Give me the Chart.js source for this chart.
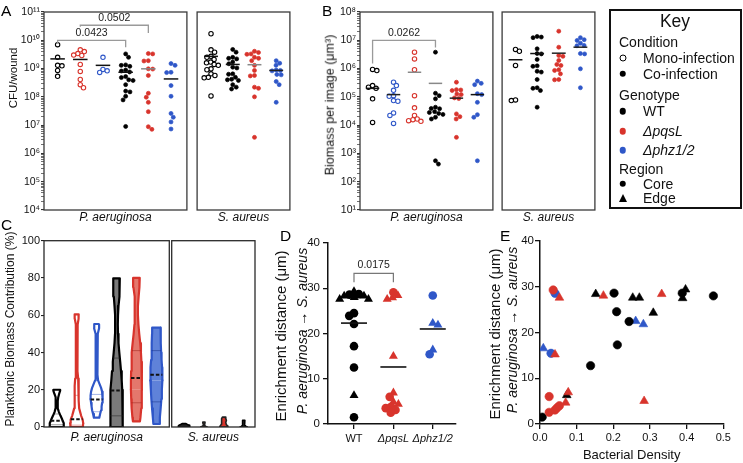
<!DOCTYPE html>
<html>
<head>
<meta charset="utf-8">
<title>Figure</title>
<script src="https://cdn.jsdelivr.net/npm/chart.js@4.4.1/dist/chart.umd.min.js"></script>
<style>
  html, body { margin:0; padding:0; background:#fff; }
  #wrap { position:relative; width:743px; height:463px; overflow:hidden; background:#fff;
          font-family:"Liberation Sans", Arial, Helvetica, sans-serif; color:#111; }
  #wrap canvas { position:absolute; }
  .t { position:absolute; white-space:nowrap; line-height:1; }
  .rot { transform:translate(-50%,-50%) rotate(-90deg); }
  .mid { transform:translate(-50%,-50%); }
  .vc { transform:translateY(-50%); }
  .mk { position:absolute; transform:translate(-50%,-50%); box-sizing:border-box; }
</style>
</head>
<body>
<div id="wrap"></div>
<script>
// ===================== DATA =====================
// ---- Panel A : CFU / wound (log) ----
const A_TICK_VALUES = [1e4, 1e5, 1e6, 1e7, 1e8, 1e9, 1e10, 1e11];
const A_TICK_LABELS = ['10⁴', '10⁵', '10⁶', '10⁷', '10⁸', '10⁹', '10¹⁰', '10¹¹'];
const A_PA_WT_MONO   = [7.0e9, 2.5e9, 1.3e9, 1.25e9, 8.6e8, 5.3e8];
const A_PA_PQSL_MONO = [4.6e9, 4.0e9, 3.4e9, 3.0e9, 2.9e9, 1.4e9, 7.9e8, 4.1e8, 2.7e8, 2.1e8];
const A_PA_PHZ_MONO  = [2.5e9, 9.3e8, 8.3e8, 7.3e8];
const A_PA_WT_CO     = [3.3e9, 2.5e9, 1.35e9, 1.3e9, 1.2e9, 8.9e8, 8.2e8, 7.6e8, 5.2e8, 4.8e8, 4.0e8, 3.8e8, 2.7e8, 1.6e8, 1.5e8, 1.05e8, 7.8e7, 9.0e6];
const A_PA_PQSL_CO   = [3.4e9, 3.3e9, 1.9e9, 1.85e9, 9.8e8, 9.6e8, 5.7e8, 1.34e8, 9.7e7, 6.4e7, 3.0e7, 8.8e6, 7.1e6];
const A_PA_PHZ_CO    = [1.5e9, 1.3e9, 7.4e8, 7.2e8, 2.5e8, 1.05e8, 2.6e7, 1.9e7, 1.3e7, 7.3e6];
const A_PA_CENTER    = [2.2e9, 2.1e9, 1.3e9, 7.4e8, 9.8e8, 4.3e8];
const A_SA_MONO      = [1.7e10, 4.6e9, 3.8e9, 2.7e9, 2.5e9, 2.1e9, 1.7e9, 1.6e9, 1.4e9, 1.3e9, 9.8e8, 9.1e8, 6.5e8, 5.7e8, 4.9e8, 4.7e8, 1.08e8];
const A_SA_WT_CO     = [4.75e9, 3.8e9, 2.5e9, 2.3e9, 2.2e9, 1.7e9, 1.48e9, 1.12e9, 1.05e9, 6.5e8, 6.3e8, 4.9e8, 4.0e8, 3.8e8, 4.2e8, 2.7e8, 2.2e8, 1.9e8];
const A_SA_PQSL_CO   = [4.1e9, 3.7e9, 3.3e9, 3.2e9, 2.5e9, 2.3e9, 1.9e9, 1.3e9, 8.6e8, 5.7e8, 5.5e8, 2.2e8, 2.0e8, 1.0e8, 3.7e6];
const A_SA_PHZ_CO    = [1.9e9, 1.55e9, 1.3e9, 8.9e8, 8.6e8, 8.3e8, 6.2e8, 6.0e8, 3.5e8, 2.7e8, 6.4e7];
const A_SA_CENTER    = [2.7e9, 1.4e9, 1.37e9, 8.6e8];
const A_BRACKETS = [
  {from: 1, to: 4, top: 1.0e10, leftFoot: 7.6e9, rightFoot: 5.7e9, label: '0.0423'},
  {from: 2, to: 5, top: 3.4e10, leftFoot: 3.0e10, rightFoot: 1.8e10, label: '0.0502'}
];

// ---- Panel B : Biomass per image (log) ----
const B_TICK_VALUES = [1e1, 1e2, 1e3, 1e4, 1e5, 1e6, 1e7, 1e8];
const B_TICK_LABELS = ['10¹', '10²', '10³', '10⁴', '10⁵', '10⁶', '10⁷', '10⁸'];
const B_PA_WT_MONO   = [9.3e5, 8.5e5, 2.5e5, 2.2e5, 2.0e5, 8.5e4, 1.25e4];
const B_PA_PHZ_MONO  = [3.3e5, 2.5e5, 1.7e5, 1.1e5, 1.05e5, 7.4e4, 7.0e4, 2.7e4, 2.2e4, 1.15e4];
const B_PA_PQSL_MONO = [3.8e6, 2.2e6, 9.1e5, 1.1e5, 4.1e4, 2.2e4, 1.65e4, 1.56e4, 1.44e4, 1.36e4];
const B_PA_WT_CO     = [3.8e6, 1.34e5, 1.1e5, 8.5e4, 4.3e4, 3.9e4, 3.8e4, 3.0e4, 2.8e4, 2.6e4, 2.4e4, 1.9e4, 1.65e4, 5.5e2, 4.2e2];
const B_PA_PQSL_CO   = [3.3e5, 1.8e5, 1.75e5, 1.67e5, 1.25e5, 1.2e5, 9.2e4, 8.7e4, 2.5e4, 2.0e4, 1.65e4, 3.7e3];
const B_PA_PHZ_CO    = [3.6e5, 3.0e5, 2.7e5, 1.3e5, 1.2e5, 6.4e4, 2.35e4, 1.9e4, 5.5e2];
const B_PA_CENTER    = [2.0e5, 1.2e5, 7.4e5, 3.0e5, 9.0e4, 1.2e5];
const B_SA_MONO      = [4.75e6, 4.1e6, 1.29e6, 7.8e4, 7.4e4];
const B_SA_WT_CO     = [1.37e7, 1.3e7, 1.24e7, 5.0e6, 3.4e6, 3.3e6, 2.1e6, 1.25e6, 1.2e6, 8.0e5, 7.5e5, 4.1e5, 2.1e5, 2.0e5, 1.67e5, 4.3e4];
const B_SA_PQSL_CO   = [2.1e7, 5.7e6, 2.9e6, 2.7e6, 1.94e6, 1.4e6, 1.29e6, 9.1e5, 8.6e5, 6.5e5, 4.1e5, 4.0e5];
const B_SA_PHZ_CO    = [1.24e7, 1.05e7, 9.9e6, 7.9e6, 6.6e6, 6.4e6, 3.4e6, 3.3e6, 9.8e5, 2.1e5];
const B_SA_CENTER    = [2.05e6, 3.4e6, 3.5e6, 5.7e6];
const B_BRACKETS = [
  {from: 1, to: 4, top: 9.9e6, leftFoot: 1.5e6, rightFoot: 5.6e6, label: '0.0262'}
];

// ---- Panel C : Planktonic biomass contribution (%) violins ----
// profiles: [value %, relative half-width]
const C_Y_TICKS = [0, 20, 40, 60, 80, 100];
const VIOLIN_PA_WT_MONO   = [[0,7],[2,7],[4,5.5],[6,3.8],[8,2.2],[10,1.2],[12,0.8],[14,1],[16,1.5],[18,2.5],[19.5,3.4],[20,3.4]];
const VIOLIN_PA_PQSL_MONO = [[0,6.2],[2,6.5],[4,6],[6,4.5],[8,3.5],[10,2.5],[14,2],[18,2],[22,2],[26,1.5],[30,1],[35,0.8],[40,0.7],[45,0.7],[50,0.8],[55,1],[58,1.8],[60,2],[60.5,2]];
const VIOLIN_PA_PHZ_MONO  = [[5,2.7],[7,3.5],[9,4.5],[11,5],[13,5.5],[15,6],[17,6],[19,5.5],[21,4.5],[23,3],[25,1.5],[28,1],[35,0.8],[45,0.8],[50,1.2],[53,2.5],[55,2.5],[55.3,2.2]];
const VIOLIN_PA_WT_CO     = [[0,6.3],[5,6.3],[10,6.2],[15,6],[20,5.7],[25,5.2],[30,4.5],[35,3.7],[40,2.8],[45,2],[50,1.5],[55,1.3],[60,1.5],[65,2],[70,2.7],[75,3.2],[79.8,3.3]];
const VIOLIN_PA_PQSL_CO   = [[3,3.5],[5,4],[10,4.8],[15,5.2],[20,5.5],[25,5.5],[30,5.3],[35,5],[40,4.5],[45,3.8],[50,2.8],[55,2],[60,1.5],[65,1.5],[70,2.2],[75,3],[80,3.3]];
const VIOLIN_PA_PHZ_CO    = [[1.6,3],[5,3.5],[10,4.3],[15,5],[20,5.5],[25,6],[28,6],[32,5.7],[36,5.2],[40,4.8],[45,4.5],[50,4.3],[53.3,4.2]];
const VIOLIN_SA_MONO      = [[0,5.4],[0.5,5.6],[1,5],[1.5,3],[1.8,2]];
const VIOLIN_SA_WT_CO     = [[0,3],[0.3,2],[0.8,0.8],[1.5,0.6],[2.2,1.1],[2.6,1.1]];
const VIOLIN_SA_PQSL_CO   = [[0,4],[0.6,3.6],[1.5,2.4],[2.5,2],[3.5,2.6],[4.5,2],[5.3,1.4]];
const VIOLIN_SA_PHZ_CO    = [[0,3.4],[0.3,2.4],[1,0.8],[2,0.8],[3,1.2],[3.6,1.2]];
const C_PA_MEDIANS = [3.4, 4.1, 14.8, 19.6, 26.3, 28.0];
const C_PA_Q1      = [1.2, 1.0, 8.2, 6.0, 13.0, 13.5];
const C_PA_Q3      = [7.0, 17.0, 17.5, 37.0, 41.0, 41.0];

// ---- Panel D : Enrichment distance by genotype ----
const D_CATEGORIES = ['WT', 'ΔpqsL', 'Δphz1/2'];
const D_Y_TICKS = [0, 10, 20, 30, 40];
const D_WT_CORE   = [28.7, 28.6, 24.5, 23.9, 22.1, 17.2, 12.5, 1.5];
const D_WT_EDGE   = [29.3, 28.3, 28.3, 28.0, 27.6, 27.6, 6.3];
const D_PQSL_CORE = [29.1, 6.0, 3.8, 3.5, 3.1, 2.5];
const D_PQSL_EDGE = [27.6, 27.9, 28.4, 15.0, 6.9, 4.9, 4.4];
const D_PHZ_CORE  = [28.4, 15.4];
const D_PHZ_EDGE  = [21.9, 22.3, 16.4];
const D_MEANS     = [22.3, 12.6, 21.0];
const D_BRACKETS  = [{from: 1, to: 2, top: 33.3, leftFoot: 31.3, rightFoot: 31.3, label: '0.0175'}];

// ---- Panel E : Enrichment distance vs bacterial density ----
const E_X_TICKS = [0, 0.1, 0.2, 0.3, 0.4, 0.5];
const E_X_TICK_LABELS = ['0.0', '0.1', '0.2', '0.3', '0.4', '0.5'];
const E_Y_TICKS = [0, 10, 20, 30, 40];
const E_WT_CORE_X   = [0.006, 0.138, 0.202, 0.209, 0.211, 0.243, 0.388, 0.473];
const E_WT_CORE_Y   = [1.5, 12.75, 28.6, 24.55, 17.3, 22.4, 28.6, 28.0];
const E_WT_EDGE_X   = [0.073, 0.152, 0.253, 0.271, 0.309, 0.389, 0.397];
const E_WT_EDGE_Y   = [6.3, 28.4, 27.6, 27.6, 24.3, 27.5, 29.4];
const E_PQSL_CORE_X = [0.036, 0.025, 0.025, 0.041, 0.047, 0.053];
const E_PQSL_CORE_Y = [29.3, 6.0, 2.55, 3.06, 3.57, 4.0];
const E_PQSL_EDGE_X = [0.053, 0.041, 0.070, 0.077, 0.173, 0.332, 0.284];
const E_PQSL_EDGE_Y = [27.6, 15.2, 4.66, 6.92, 28.05, 28.4, 5.03];
const E_PHZ_CORE_X  = [0.041, 0.030];
const E_PHZ_CORE_Y  = [28.56, 15.45];
const E_PHZ_EDGE_X  = [0.009, 0.261, 0.282];
const E_PHZ_EDGE_Y  = [16.54, 22.5, 21.8];

// ===================== STYLE / LAYOUT =====================
const F = '"Liberation Sans", Arial, Helvetica, sans-serif';
const BLACK = '#000000', RED = '#d8342c', BLUE = '#2f57c8';
Chart.defaults.font.family = F;
Chart.defaults.color = '#111';

const wrap = document.getElementById('wrap');

const framePlugin = {
  id: 'frame',
  afterDatasetsDraw(chart, args, opts) {
    if (!opts || !opts.show) return;
    const {ctx, chartArea: a} = chart;
    ctx.save();
    ctx.strokeStyle = opts.color || '#333';
    ctx.lineWidth = opts.width || 1.3;
    ctx.strokeRect(a.left, a.top, a.right - a.left, a.bottom - a.top);
    ctx.restore();
  }
};

function txt(html, x, y, cls, style) {
  const d = document.createElement('div');
  d.className = 't ' + (cls || '');
  d.innerHTML = html;
  d.style.left = x + 'px';
  d.style.top = y + 'px';
  Object.assign(d.style, style || {});
  wrap.appendChild(d);
  return d;
}

function build(r, area, datasets, scales, frame) {
  const cv = document.createElement('canvas');
  cv.width = r.w; cv.height = r.h;
  cv.style.left = r.x + 'px'; cv.style.top = r.y + 'px';
  cv.style.width = r.w + 'px'; cv.style.height = r.h + 'px';
  wrap.appendChild(cv);
  const padTop = area.top - r.y, padRight = r.x + r.w - area.right;
  const yW = area.left - r.x, xH = r.y + r.h - area.bottom;
  scales.x.afterFit = s => { s.height = xH; };
  scales.y.afterFit = s => { s.width = yW; };
  const chart = new Chart(cv, {
    type: 'scatter',
    data: {datasets},
    options: {
      responsive: false, maintainAspectRatio: false, animation: false, devicePixelRatio: 1, events: [],
      layout: {padding: {top: padTop, right: padRight, bottom: 0, left: 0}},
      plugins: {legend: {display: false}, tooltip: {enabled: false}, frame: frame || {show: false}},
      scales
    },
    plugins: [framePlugin]
  });
  chart._rect = r;
  return chart;
}

// simple beeswarm: returns pixel offsets
function swarm(vals, yToPx, d) {
  const order = vals.map((v, i) => i).sort((a, b) => yToPx(vals[b]) - yToPx(vals[a]));
  const placed = [], out = [];
  let flip = 1;
  for (const i of order) {
    const y = yToPx(vals[i]);
    const near = placed.filter(p => Math.abs(p.y - y) < d);
    const cands = [0];
    near.forEach(p => { const dx = Math.sqrt(d * d - (p.y - y) * (p.y - y)); cands.push(p.x + dx, p.x - dx); });
    const ok = cands.filter(c => near.every(p => (p.x - c) * (p.x - c) + (p.y - y) * (p.y - y) >= d * d - 1e-6));
    ok.sort((a, b) => (Math.abs(a) - Math.abs(b)) || flip * (b - a));
    const x = ok[0];
    if (x !== 0) flip = -flip;
    placed.push({x, y}); out[i] = x;
  }
  return out;
}

function hiddenX(xr, title, pb) {
  const s = {type: 'linear', min: xr.min, max: xr.max, display: true,
    grid: {display: false}, border: {display: false}, ticks: {display: false}};
  if (title) s.title = {display: true, text: title, color: '#111', font: {family: F, size: 12, style: 'italic'}, padding: {top: 0, bottom: pb}};
  return s;
}

function logY(min, max, tv, tl, show) {
  const ticks = [];
  for (let e = Math.round(Math.log10(min)); e <= Math.round(Math.log10(max)); e++) {
    ticks.push({value: Math.pow(10, e), major: true});
    if (e < Math.round(Math.log10(max))) for (let m = 2; m <= 9; m++) ticks.push({value: m * Math.pow(10, e), major: false});
  }
  ticks.sort((a, b) => a.value - b.value);
  return {
    type: 'logarithmic', min, max, display: true,
    border: {display: false},
    grid: {display: show, drawOnChartArea: false, drawTicks: true, tickLength: 3, color: '#333',
           lineWidth: c => (c.tick && c.tick.major) ? 1.1 : 0.7},
    ticks: {display: show, autoSkip: false, padding: 1, color: '#111', font: {family: F, size: 10.5},
      callback: v => { const i = tv.findIndex(t => Math.abs(Math.log10(t) - Math.log10(v)) < 1e-6); return i >= 0 ? tl[i] : ''; }},
    afterBuildTicks: s => { s.ticks = ticks.map(t => ({value: t.value, major: t.major})); }
  };
}

function stripSets(cols, centers, centerColors, yToPx, unitPx, d) {
  const lines = [], pts = [];
  cols.forEach((c, ci) => {
    const offs = swarm(c.vals, yToPx, d);
    pts.push({
      data: c.vals.map((v, i) => ({x: ci + 1 + offs[i] / unitPx, y: v})),
      showLine: false, pointStyle: 'circle',
      pointRadius: c.open ? 2.2 : 2.0, pointBorderWidth: c.open ? 1.1 : 0.7,
      pointBackgroundColor: c.open ? '#ffffff' : c.color, pointBorderColor: c.color
    });
    lines.push({
      data: [{x: ci + 1 - 0.32, y: centers[ci]}, {x: ci + 1 + 0.32, y: centers[ci]}],
      showLine: true, pointRadius: 0, borderColor: centerColors[ci], borderWidth: 1.5, fill: false
    });
  });
  return lines.concat(pts);
}

function bracketSets(brs, color, lw) {
  return brs.map(b => ({
    data: [{x: b.from, y: b.leftFoot}, {x: b.from, y: b.top}, {x: b.to, y: b.top}, {x: b.to, y: b.rightFoot}],
    showLine: true, pointRadius: 0, borderColor: color, borderWidth: lw, fill: false, tension: 0
  }));
}

function bracketLabels(chart, brs, dy, size) {
  const r = chart._rect;
  brs.forEach(b => {
    const x = r.x + chart.scales.x.getPixelForValue((b.from + b.to) / 2);
    const y = r.y + chart.scales.y.getPixelForValue(b.top) - dy;
    txt(b.label, x, y, 'mid', {fontSize: size + 'px', color: '#222'});
  });
}

// ---------- Panel A ----------
(function () {
  const r1 = {x: 0, y: 0, w: 192, h: 230}, a1 = {left: 44, top: 12, right: 190.5, bottom: 210};
  const r2 = {x: 192, y: 0, w: 103, h: 230}, a2 = {left: 193.5, top: 12, right: 293, bottom: 210};
  const x1 = {min: 0.4, max: 6.7}, x2 = {min: 0.36, max: 4.63};
  const perDec = (a1.bottom - a1.top) / 7;
  const yToPx = v => Math.log10(v) * perDec;
  const cols1 = [
    {vals: A_PA_WT_MONO, color: BLACK, open: true}, {vals: A_PA_PQSL_MONO, color: RED, open: true},
    {vals: A_PA_PHZ_MONO, color: BLUE, open: true}, {vals: A_PA_WT_CO, color: BLACK, open: false},
    {vals: A_PA_PQSL_CO, color: RED, open: false}, {vals: A_PA_PHZ_CO, color: BLUE, open: false}];
  const cols2 = [
    {vals: A_SA_MONO, color: BLACK, open: true}, {vals: A_SA_WT_CO, color: BLACK, open: false},
    {vals: A_SA_PQSL_CO, color: RED, open: false}, {vals: A_SA_PHZ_CO, color: BLUE, open: false}];
  const u1 = (a1.right - a1.left) / (x1.max - x1.min), u2 = (a2.right - a2.left) / (x2.max - x2.min);
  const c1 = build(r1, a1,
    bracketSets(A_BRACKETS, '#9a9a9a', 1.3).concat(stripSets(cols1, A_PA_CENTER, ['#111', '#111', '#111', '#111', '#888', '#111'], yToPx, u1, 4.5)),
    {x: hiddenX(x1, 'P. aeruginosa', 5.3), y: logY(1e4, 1e11, A_TICK_VALUES, A_TICK_LABELS, true)},
    {show: true, color: '#3a3a3a', width: 1.3});
  build(r2, a2,
    stripSets(cols2, A_SA_CENTER, ['#111', '#111', '#888', '#222'], yToPx, u2, 4.5),
    {x: hiddenX(x2, 'S. aureus', 5.3), y: logY(1e4, 1e11, A_TICK_VALUES, A_TICK_LABELS, false)},
    {show: true, color: '#3a3a3a', width: 1.3});
  bracketLabels(c1, A_BRACKETS, 8.5, 10.5);
})();

// ---------- Panel B ----------
(function () {
  const r1 = {x: 338, y: 0, w: 160, h: 230}, a1 = {left: 360, top: 12, right: 496.5, bottom: 210};
  const r2 = {x: 497, y: 0, w: 103, h: 230}, a2 = {left: 499, top: 12, right: 598, bottom: 210};
  const x1 = {min: 0.4, max: 6.74}, x2 = {min: 0.38, max: 4.67};
  const perDec = (a1.bottom - a1.top) / 7;
  const yToPx = v => Math.log10(v) * perDec;
  const cols1 = [
    {vals: B_PA_WT_MONO, color: BLACK, open: true}, {vals: B_PA_PHZ_MONO, color: BLUE, open: true},
    {vals: B_PA_PQSL_MONO, color: RED, open: true}, {vals: B_PA_WT_CO, color: BLACK, open: false},
    {vals: B_PA_PQSL_CO, color: RED, open: false}, {vals: B_PA_PHZ_CO, color: BLUE, open: false}];
  const cols2 = [
    {vals: B_SA_MONO, color: BLACK, open: true}, {vals: B_SA_WT_CO, color: BLACK, open: false},
    {vals: B_SA_PQSL_CO, color: RED, open: false}, {vals: B_SA_PHZ_CO, color: BLUE, open: false}];
  const u1 = (a1.right - a1.left) / (x1.max - x1.min), u2 = (a2.right - a2.left) / (x2.max - x2.min);
  const c1 = build(r1, a1,
    bracketSets(B_BRACKETS, '#9a9a9a', 1.3).concat(stripSets(cols1, B_PA_CENTER, ['#111', '#222', '#888', '#888', '#222', '#111'], yToPx, u1, 4.5)),
    {x: hiddenX(x1, 'P. aeruginosa', 5.3), y: logY(1e1, 1e8, B_TICK_VALUES, B_TICK_LABELS, true)},
    {show: true, color: '#3a3a3a', width: 1.3});
  build(r2, a2,
    stripSets(cols2, B_SA_CENTER, ['#111', '#111', '#222', '#222'], yToPx, u2, 4.5),
    {x: hiddenX(x2, 'S. aureus', 5.3), y: logY(1e1, 1e8, B_TICK_VALUES, B_TICK_LABELS, false)},
    {show: true, color: '#3a3a3a', width: 1.3});
  bracketLabels(c1, B_BRACKETS, 8.5, 10.5);
})();

// ---------- Panel C ----------
const VIOLIN_UNIT = 19.9; // relative width units per category
function interp(profile, v) {
  if (v <= profile[0][0]) return profile[0][1];
  for (let i = 1; i < profile.length; i++) {
    if (v <= profile[i][0]) {
      const [v0, w0] = profile[i - 1], [v1, w1] = profile[i];
      return w0 + (w1 - w0) * (v - v0) / (v1 - v0);
    }
  }
  return profile[profile.length - 1][1];
}
function violinSets(profile, cx, stroke, fill, lw) {
  let k = 0;
  profile.forEach((p, i) => { if (p[1] > profile[k][1]) k = i; });
  const L = profile.map(p => ({x: cx - p[1] / VIOLIN_UNIT, y: p[0]}));
  const R = profile.map(p => ({x: cx + p[1] / VIOLIN_UNIT, y: p[0]}));
  const lower = L.slice(0, k + 1).reverse().concat(R.slice(0, k + 1));
  const upper = L.slice(k).concat(R.slice(k).reverse());
  const base = {showLine: true, pointRadius: 0, borderColor: stroke, borderWidth: lw, backgroundColor: fill,
                fill: 'shape', tension: 0, borderJoinStyle: 'round', borderCapStyle: 'round'};
  return [Object.assign({data: lower}, base), Object.assign({data: upper}, base)];
}
function hline(profile, cx, v, color, lw, dash) {
  const w = interp(profile, v) / VIOLIN_UNIT;
  return {data: [{x: cx - w, y: v}, {x: cx + w, y: v}], showLine: true, pointRadius: 0,
          borderColor: color, borderWidth: lw, borderDash: dash || [], fill: false};
}
(function () {
  const r1 = {x: 14, y: 230, w: 157, h: 215}, a1 = {left: 44, top: 240.7, right: 169.3, bottom: 427};
  const r2 = {x: 170, y: 230, w: 88, h: 215}, a2 = {left: 171.7, top: 240.7, right: 255, bottom: 427};
  const x1 = {min: 0.36, max: 6.65}, x2 = {min: 0.38, max: 4.57};
  const pa = [
    {p: VIOLIN_PA_WT_MONO, s: BLACK, f: '#ffffff', q: 'rgba(0,0,0,0.45)'},
    {p: VIOLIN_PA_PQSL_MONO, s: RED, f: '#ffffff', q: 'rgba(216,52,44,0.5)'},
    {p: VIOLIN_PA_PHZ_MONO, s: BLUE, f: '#ffffff', q: 'rgba(47,87,200,0.5)'},
    {p: VIOLIN_PA_WT_CO, s: BLACK, f: '#7a7a7a', q: 'rgba(40,40,40,0.6)'},
    {p: VIOLIN_PA_PQSL_CO, s: RED, f: '#e4776c', q: 'rgba(150,30,25,0.55)'},
    {p: VIOLIN_PA_PHZ_CO, s: BLUE, f: '#5f82d9', q: 'rgba(20,45,130,0.55)'}];
  const top1 = [], vio1 = [];
  pa.forEach((v, i) => {
    const cx = i + 1;
    top1.push(hline(v.p, cx, C_PA_MEDIANS[i], '#111', 2, [3.5, 2]));
    top1.push(hline(v.p, cx, C_PA_Q1[i], v.q, 0.9));
    top1.push(hline(v.p, cx, C_PA_Q3[i], v.q, 0.9));
    vio1.push(...violinSets(v.p, cx, v.s, v.f, 2.2));
  });
  const sa = [
    {p: VIOLIN_SA_MONO, s: BLACK, f: '#222222'},
    {p: VIOLIN_SA_WT_CO, s: '#222222', f: '#b03a30'},
    {p: VIOLIN_SA_PQSL_CO, s: '#222222', f: '#d8342c'},
    {p: VIOLIN_SA_PHZ_CO, s: BLACK, f: '#444444'}];
  const vio2 = [];
  sa.forEach((v, i) => vio2.push(...violinSets(v.p, i + 1, v.s, v.f, 1.6)));
  const yC = (show) => ({
    type: 'linear', min: 0, max: 100, display: true, border: {display: false},
    grid: {display: show, drawOnChartArea: false, tickLength: 3, color: '#222', lineWidth: 1.1},
    ticks: {display: show, padding: 1, color: '#111', font: {family: F, size: 11}},
    afterBuildTicks: s => { s.ticks = C_Y_TICKS.map(v => ({value: v})); }
  });
  build(r1, a1, top1.concat(vio1), {x: hiddenX(x1, 'P. aeruginosa', 0.1), y: yC(true)}, {show: true, color: '#2a2a2a', width: 1.3});
  build(r2, a2, vio2, {x: hiddenX(x2, 'S. aureus', 0.1), y: yC(false)}, {show: true, color: '#2a2a2a', width: 1.3});
})();

// ---------- Panel D ----------
(function () {
  const r = {x: 300, y: 230, w: 162, h: 233}, a = {left: 328, top: 243, right: 456, bottom: 424};
  const xr = {min: 0.34, max: 3.59};
  const unit = (a.right - a.left) / (xr.max - xr.min);
  const perY = (a.bottom - a.top) / 40;
  const groups = [
    {core: D_WT_CORE, edge: D_WT_EDGE, color: BLACK},
    {core: D_PQSL_CORE, edge: D_PQSL_EDGE, color: RED},
    {core: D_PHZ_CORE, edge: D_PHZ_EDGE, color: BLUE}];
  const means = [], pts = [];
  groups.forEach((g, gi) => {
    const all = g.core.concat(g.edge);
    const offs = swarm(all, v => v * perY, 5.5);
    const cx = gi + 1;
    pts.push({data: g.core.map((v, i) => ({x: cx + offs[i] / unit, y: v})), showLine: false,
      pointStyle: 'circle', pointRadius: 4.3, pointBorderWidth: 0, pointBackgroundColor: g.color, pointBorderColor: g.color});
    pts.push({data: g.edge.map((v, i) => ({x: cx + offs[g.core.length + i] / unit, y: v})), showLine: false,
      pointStyle: 'triangle', pointRadius: 5.2, pointBorderWidth: 0, pointBackgroundColor: g.color, pointBorderColor: g.color});
    means.push({data: [{x: cx - 0.33, y: D_MEANS[gi]}, {x: cx + 0.33, y: D_MEANS[gi]}], showLine: true, pointRadius: 0,
      borderColor: '#111', borderWidth: 1.6, fill: false});
  });
  const chart = build(r, a, bracketSets(D_BRACKETS, '#777777', 1.2).concat(means, pts), {
    x: {type: 'linear', min: xr.min, max: xr.max, display: true,
      border: {display: true, color: '#111', width: 1.5},
      grid: {display: true, drawOnChartArea: false, tickLength: 5, color: '#111', lineWidth: 1.3},
      ticks: {autoSkip: false, maxRotation: 0, padding: 3, color: '#111',
        font: c => ({family: F, size: 11, style: c.index === 0 ? 'normal' : 'italic'}),
        callback: (v, i) => D_CATEGORIES[i]},
      afterBuildTicks: s => { s.ticks = D_CATEGORIES.map((c, i) => ({value: i + 1})); }},
    y: {type: 'linear', min: 0, max: 40, display: true,
      border: {display: true, color: '#111', width: 1.5},
      grid: {display: true, drawOnChartArea: false, tickLength: 5, color: '#111', lineWidth: 1.3},
      ticks: {padding: 3, color: '#111', font: {family: F, size: 11.5}},
      afterBuildTicks: s => { s.ticks = D_Y_TICKS.map(v => ({value: v})); }}
  });
  bracketLabels(chart, D_BRACKETS, 9.5, 10.5);
})();

// ---------- Panel E ----------
(function () {
  const r = {x: 515, y: 230, w: 228, h: 233}, a = {left: 540, top: 241, right: 723.3, bottom: 424};
  const mk = (xs, ys) => xs.map((x, i) => ({x, y: ys[i]}));
  const sets = [
    {data: mk(E_PQSL_EDGE_X, E_PQSL_EDGE_Y), pointStyle: 'triangle', pointRadius: 5, pointBackgroundColor: RED},
    {data: mk(E_PQSL_CORE_X, E_PQSL_CORE_Y), pointStyle: 'circle', pointRadius: 4.2, pointBackgroundColor: RED},
    {data: mk(E_WT_EDGE_X, E_WT_EDGE_Y), pointStyle: 'triangle', pointRadius: 5, pointBackgroundColor: BLACK},
    {data: mk(E_WT_CORE_X, E_WT_CORE_Y), pointStyle: 'circle', pointRadius: 4.2, pointBackgroundColor: BLACK},
    {data: mk(E_PHZ_EDGE_X, E_PHZ_EDGE_Y), pointStyle: 'triangle', pointRadius: 5, pointBackgroundColor: BLUE},
    {data: mk(E_PHZ_CORE_X, E_PHZ_CORE_Y), pointStyle: 'circle', pointRadius: 4.2, pointBackgroundColor: BLUE}
  ].map(s => Object.assign(s, {showLine: false, pointBorderWidth: 0.6, pointBorderColor: s.pointBackgroundColor}));
  build(r, a, sets, {
    x: {type: 'linear', min: 0, max: 0.5, display: true,
      border: {display: true, color: '#111', width: 1.5},
      grid: {display: true, drawOnChartArea: false, tickLength: 5, color: '#111', lineWidth: 1.3},
      ticks: {autoSkip: false, maxRotation: 0, padding: 2, color: '#111', font: {family: F, size: 11},
        callback: (v, i) => E_X_TICK_LABELS[i]},
      afterBuildTicks: s => { s.ticks = E_X_TICKS.map(v => ({value: v})); },
      title: {display: true, text: 'Bacterial Density', color: '#111', font: {family: F, size: 13}, padding: {top: 0, bottom: 0.2}}},
    y: {type: 'linear', min: 0, max: 40, display: true,
      border: {display: true, color: '#111', width: 1.5},
      grid: {display: true, drawOnChartArea: false, tickLength: 5, color: '#111', lineWidth: 1.3},
      ticks: {padding: 1, color: '#111', font: {family: F, size: 11.5}},
      afterBuildTicks: s => { s.ticks = E_Y_TICKS.map(v => ({value: v})); }}
  });
})();

// ===================== TEXT =====================
const LETTER = {fontSize: '15.5px', color: '#000'};
txt('A', 1, 3, '', LETTER);
txt('B', 322, 3, '', LETTER);
txt('C', 1, 217, '', LETTER);
txt('D', 280, 228, '', LETTER);
txt('E', 500, 228, '', LETTER);

txt('CFU/wound', 14, 78, 'rot', {fontSize: '11.5px'});
txt('Biomass per image (μm³)', 330, 105, 'rot', {fontSize: '12.5px'});
txt('Planktonic Biomass Contribution (%)', 10, 329, 'rot', {fontSize: '12px'});
txt('Enrichment distance (μm)', 280.3, 336, 'rot', {fontSize: '15px'});
txt('<i>P. aeruginosa</i> → <i>S. aureus</i>', 301.5, 331, 'rot', {fontSize: '14px'});
txt('Enrichment distance (μm)', 494, 334, 'rot', {fontSize: '15px'});
txt('<i>P. aeruginosa</i> → <i>S. aureus</i>', 511.5, 330, 'rot', {fontSize: '14px'});

// ---- Key ----
const keyBox = document.createElement('div');
Object.assign(keyBox.style, {position: 'absolute', left: '609px', top: '9px', width: '129px', height: '196px', border: '2px solid #111'});
wrap.appendChild(keyBox);
function mark(kind, x, y, color) {
  const d = document.createElement('div');
  d.className = 'mk';
  d.style.left = x + 'px'; d.style.top = y + 'px';
  if (kind === 'open') Object.assign(d.style, {width: '7px', height: '7px', border: '1.8px solid ' + color, borderRadius: '50%'});
  else if (kind === 'dot') Object.assign(d.style, {width: '6.5px', height: '6.5px', background: color, borderRadius: '50%'});
  else if (kind === 'tri') Object.assign(d.style, {width: '0', height: '0', borderLeft: '4.5px solid transparent', borderRight: '4.5px solid transparent', borderBottom: '8px solid ' + color});
  wrap.appendChild(d);
}
const KF = {fontSize: '14px', color: '#111'};
txt('Key', 675, 22, 'mid', {fontSize: '17.5px', color: '#111'});
txt('Condition', 619, 42, 'vc', KF);
mark('open', 622.5, 57.5, BLACK); txt('Mono-infection', 643, 57.5, 'vc', KF);
mark('dot', 622.5, 73.5, BLACK);  txt('Co-infection', 643, 73.5, 'vc', KF);
txt('Genotype', 619, 95, 'vc', KF);
mark('dot', 622.5, 111, BLACK);   txt('WT', 643, 111, 'vc', KF);
mark('dot', 622.5, 131, RED);     txt('<i>ΔpqsL</i>', 643, 131, 'vc', KF);
mark('dot', 622.5, 150, BLUE);    txt('<i>Δphz1/2</i>', 643, 150, 'vc', KF);
txt('Region', 619, 169, 'vc', KF);
mark('dot', 622.5, 183.5, BLACK); txt('Core', 643, 183.5, 'vc', KF);
mark('tri', 622.5, 198, BLACK);   txt('Edge', 643, 198, 'vc', KF);
</script>
</body>
</html>
